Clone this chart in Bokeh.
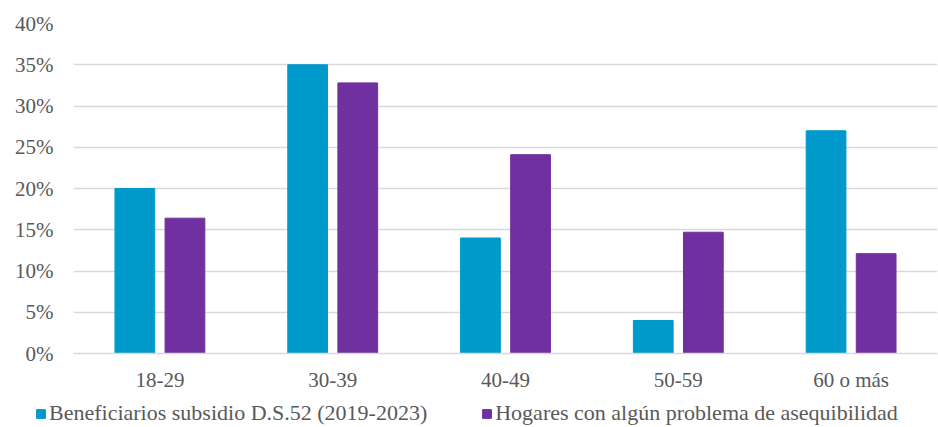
from bokeh.plotting import figure
from bokeh.layouts import column
from bokeh.models import (ColumnDataSource, FactorRange, Range1d, Legend, LegendItem,
                          PrintfTickFormatter, FixedTicker)
from bokeh.transform import dodge
from bokeh.embed import file_html
from bokeh.resources import INLINE

categories = ["18-29", "30-39", "40-49", "50-59", "60 o más"]
beneficiarios = [20.0, 35.0, 14.0, 4.0, 27.0]
hogares = [16.4, 32.8, 24.1, 14.7, 12.1]
series_names = ["Beneficiarios subsidio D.S.52 (2019-2023)", "Hogares con algún problema de asequibilidad"]
y_ticks = [0, 5, 10, 15, 20, 25, 30, 35, 40]

FONT = "Liberation Serif"
TXT = "#595959"
C1 = "#0099CC"
C2 = "#7030A0"

src = ColumnDataSource(dict(cat=categories, b=beneficiarios, h=hogares))

p = figure(width=938, height=395, x_range=FactorRange(*categories), y_range=Range1d(0, 40),
           output_backend="svg", toolbar_location=None,
           min_border_left=73, min_border_right=1, min_border_top=23, min_border_bottom=42)
p.outline_line_color = None
p.frame_align = False

p.vbar(x=dodge("cat", -0.145, range=p.x_range), top="b", width=0.23, source=src,
       fill_color=C1, line_color=C1)
p.vbar(x=dodge("cat", 0.145, range=p.x_range), top="h", width=0.23, source=src,
       fill_color=C2, line_color=C2)

p.xgrid.grid_line_color = None
p.ygrid.grid_line_color = "#D9D9D9"
p.ygrid.grid_line_width = 1.5
p.yaxis.ticker = FixedTicker(ticks=y_ticks)
p.yaxis.formatter = PrintfTickFormatter(format="%d%%")
p.yaxis.axis_line_color = None
p.xaxis.axis_line_color = "#D9D9D9"
p.xaxis.axis_line_width = 1.5
for ax in (p.xaxis, p.yaxis):
    ax.major_tick_line_color = None
    ax.minor_tick_line_color = None
    ax.major_tick_out = 0
    ax.major_tick_in = 0
    ax.minor_tick_out = 0
    ax.major_label_text_font = FONT
    ax.major_label_text_font_size = "21px"
    ax.major_label_text_color = TXT
p.yaxis.major_label_standoff = 20
p.xaxis.major_label_standoff = 14

# legend strip below the chart
lg = figure(width=938, height=32, output_backend="svg", toolbar_location=None,
            x_range=Range1d(0, 1), y_range=Range1d(0, 1),
            x_axis_location=None, y_axis_location=None, min_border=0)
lg.frame_align = False
lg.outline_line_color = None
lg.xgrid.grid_line_color = None
lg.ygrid.grid_line_color = None
# legend-only renderers, kept outside the visible range
key = ColumnDataSource(dict(x=[-1.0], top=[-1.0]))
d1 = lg.vbar(x="x", top="top", width=0.1, source=key, fill_color=C1, line_color=C1)
d2 = lg.vbar(x="x", top="top", width=0.1, source=key, fill_color=C2, line_color=C2)
legend = Legend(items=[LegendItem(label=series_names[0], renderers=[d1]),
                       LegendItem(label=series_names[1], renderers=[d2])],
                orientation="horizontal", location=(35, 1),
                label_text_font=FONT, label_text_font_size="22px", label_text_color=TXT,
                glyph_width=11, glyph_height=11, spacing=54, padding=0, margin=0,
                label_standoff=3, border_line_color=None, background_fill_alpha=0)
lg.add_layout(legend, "center")

layout = column(p, lg, spacing=0)
open("out.html", "w").write(file_html(layout, INLINE))
